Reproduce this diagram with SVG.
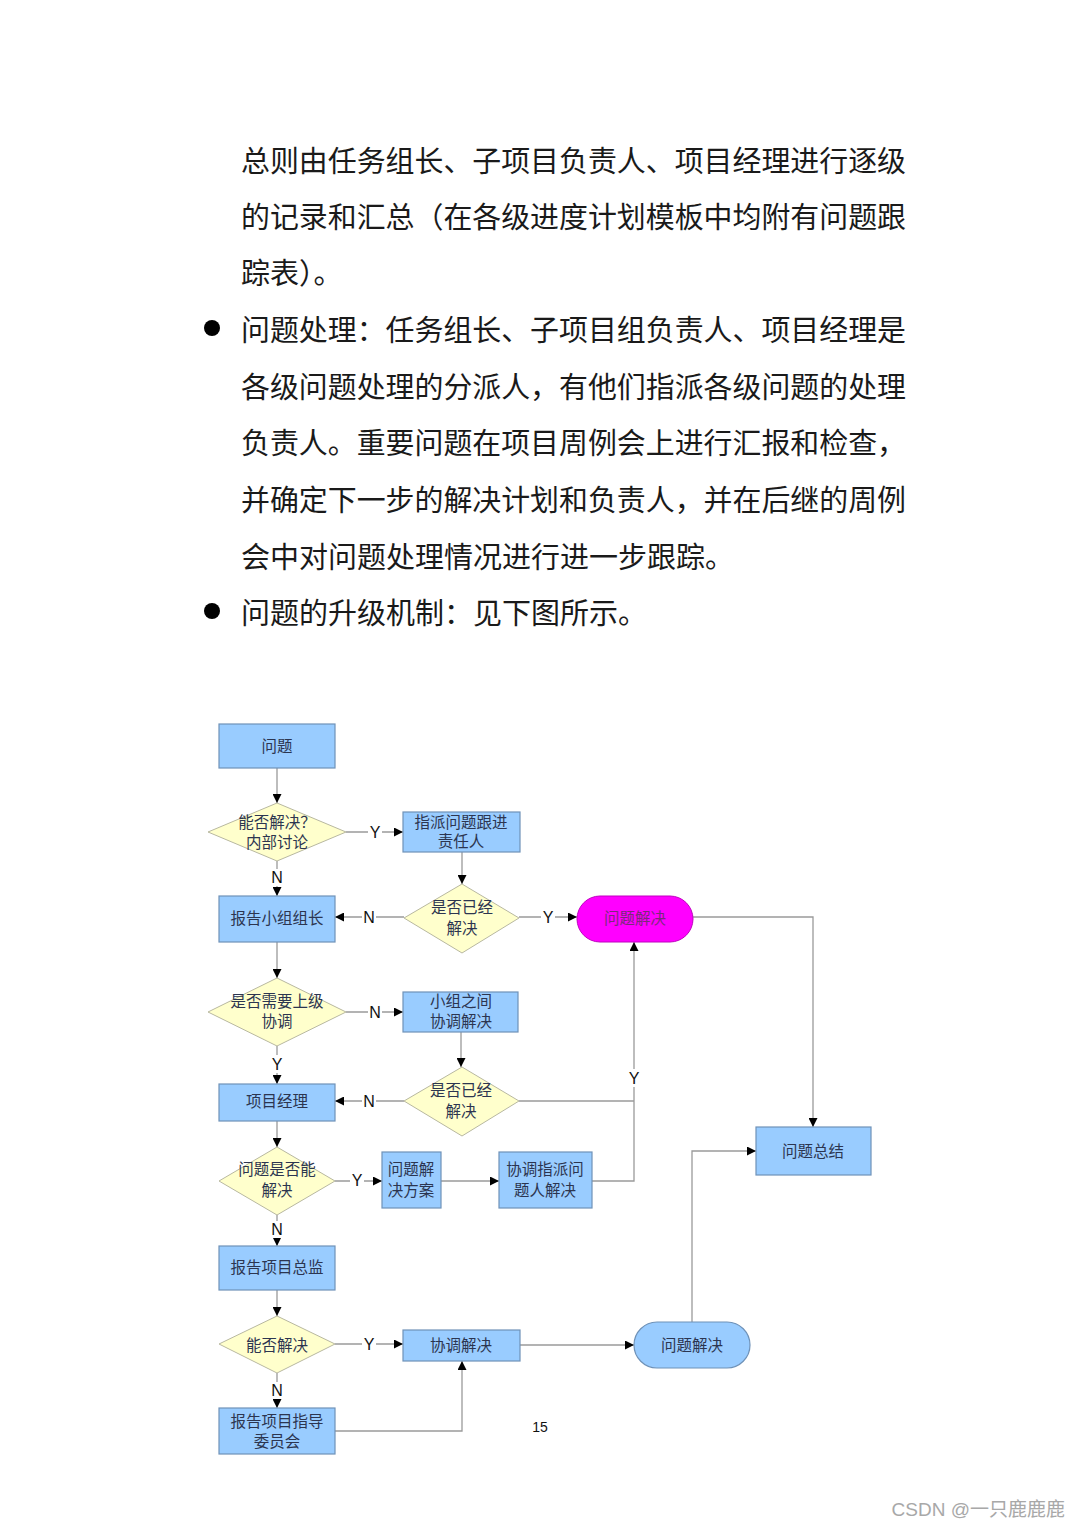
<svg xmlns="http://www.w3.org/2000/svg" width="1080" height="1528" viewBox="0 0 1080 1528">
<style>
.para{font-family:"Noto Sans CJK SC","Noto Sans",sans-serif;font-size:29px;fill:#1a1a1a;dominant-baseline:central}
.box{fill:#99ccff;stroke:#6f92b8;stroke-width:1.2}
.dia{fill:#ffffcc;stroke:#b8b8a0;stroke-width:1}
.nt{font-family:"Noto Sans CJK SC","Noto Sans",sans-serif;font-size:15.5px;fill:#2c3550;text-anchor:middle;dominant-baseline:central;transform:translateY(-1.5px)}
.ln{fill:none;stroke:#9a9a9a;stroke-width:1.3}
.lb{font-family:"Liberation Sans",Arial,sans-serif;font-size:16px;fill:#111;text-anchor:middle;dominant-baseline:central}
.lbg{fill:#ffffff}
</style>
<defs>
<marker id="ah" viewBox="0 0 10 10" refX="10" refY="5" markerWidth="9" markerHeight="9" markerUnits="userSpaceOnUse" orient="auto">
<path d="M0,0 L10,5 L0,10 z" fill="#000"/>
</marker>
</defs>
<rect width="1080" height="1528" fill="#ffffff"/>
<g id="paragraph">
<text class="para" x="241" y="159" textLength="665" lengthAdjust="spacingAndGlyphs">总则由任务组长、子项目负责人、项目经理进行逐级</text>
<text class="para" x="241" y="215" textLength="665" lengthAdjust="spacingAndGlyphs">的记录和汇总（在各级进度计划模板中均附有问题跟</text>
<text class="para" x="241" y="271">踪表）。</text>
<circle cx="212" cy="328" r="8" fill="#000"/>
<text class="para" x="241" y="328" textLength="665" lengthAdjust="spacingAndGlyphs">问题处理：任务组长、子项目组负责人、项目经理是</text>
<text class="para" x="241" y="385" textLength="665" lengthAdjust="spacingAndGlyphs">各级问题处理的分派人，有他们指派各级问题的处理</text>
<text class="para" x="241" y="441" textLength="665" lengthAdjust="spacingAndGlyphs">负责人。重要问题在项目周例会上进行汇报和检查，</text>
<text class="para" x="241" y="498" textLength="665" lengthAdjust="spacingAndGlyphs">并确定下一步的解决计划和负责人，并在后继的周例</text>
<text class="para" x="241" y="555">会中对问题处理情况进行进一步跟踪。</text>
<circle cx="212" cy="611" r="8" fill="#000"/>
<text class="para" x="241" y="611">问题的升级机制：见下图所示。</text>
</g>
<g id="connectors">
<path class="ln" d="M277,768 V803" marker-end="url(#ah)"/>
<path class="ln" d="M346,832 H403" marker-end="url(#ah)"/>
<path class="ln" d="M277,861 V896" marker-end="url(#ah)"/>
<path class="ln" d="M462,852 V884" marker-end="url(#ah)"/>
<path class="ln" d="M404,917 H335" marker-end="url(#ah)"/>
<path class="ln" d="M519,917 H577" marker-end="url(#ah)"/>
<path class="ln" d="M693,917 H813 V1127" marker-end="url(#ah)"/>
<path class="ln" d="M277,942 V978" marker-end="url(#ah)"/>
<path class="ln" d="M346,1012 H403" marker-end="url(#ah)"/>
<path class="ln" d="M277,1046 V1084" marker-end="url(#ah)"/>
<path class="ln" d="M461,1032 V1067" marker-end="url(#ah)"/>
<path class="ln" d="M404,1101 H335" marker-end="url(#ah)"/>
<path class="ln" d="M519,1101 H634"/>
<path class="ln" d="M592,1181 H634 V942" marker-end="url(#ah)"/>
<path class="ln" d="M277,1121 V1147" marker-end="url(#ah)"/>
<path class="ln" d="M335,1181 H382" marker-end="url(#ah)"/>
<path class="ln" d="M441,1181 H499" marker-end="url(#ah)"/>
<path class="ln" d="M277,1215 V1246" marker-end="url(#ah)"/>
<path class="ln" d="M277,1290 V1316" marker-end="url(#ah)"/>
<path class="ln" d="M335,1344 H403" marker-end="url(#ah)"/>
<path class="ln" d="M277,1373 V1408" marker-end="url(#ah)"/>
<path class="ln" d="M335,1431 H462 V1361" marker-end="url(#ah)"/>
<path class="ln" d="M520,1345 H634" marker-end="url(#ah)"/>
<path class="ln" d="M692,1322 V1151 H756" marker-end="url(#ah)"/>
<rect class="lbg" x="368" y="823" width="14" height="18"/><text class="lb" x="375" y="832">Y</text>
<rect class="lbg" x="270" y="869" width="14" height="17"/><text class="lb" x="277" y="877">N</text>
<rect class="lbg" x="362" y="908" width="14" height="18"/><text class="lb" x="369" y="917">N</text>
<rect class="lbg" x="541" y="908" width="14" height="18"/><text class="lb" x="548" y="917">Y</text>
<rect class="lbg" x="368" y="1003" width="14" height="18"/><text class="lb" x="375" y="1012">N</text>
<rect class="lbg" x="270" y="1055" width="14" height="18"/><text class="lb" x="277" y="1064">Y</text>
<rect class="lbg" x="362" y="1092" width="14" height="18"/><text class="lb" x="369" y="1101">N</text>
<rect class="lbg" x="627" y="1069" width="14" height="18"/><text class="lb" x="634" y="1078">Y</text>
<rect class="lbg" x="350" y="1172" width="14" height="18"/><text class="lb" x="357" y="1180">Y</text>
<rect class="lbg" x="270" y="1221" width="14" height="17"/><text class="lb" x="277" y="1229">N</text>
<rect class="lbg" x="362" y="1335" width="14" height="18"/><text class="lb" x="369" y="1344">Y</text>
<rect class="lbg" x="270" y="1382" width="14" height="17"/><text class="lb" x="277" y="1390">N</text>
</g>
<g id="n-wenti"><rect class="box" x="219" y="724" width="116" height="44"/><text class="nt" x="277" y="746">问题</text></g>
<g id="n-d1"><polygon class="dia" points="277,803 346,832 277,861 208,832"/><text class="nt" x="277" y="822">能否解决？</text><text class="nt" x="277" y="842">内部讨论</text></g>
<g id="n-zhipai"><rect class="box" x="403" y="812" width="117" height="40"/><text class="nt" x="461" y="822">指派问题跟进</text><text class="nt" x="461" y="841">责任人</text></g>
<g id="n-zuzhang"><rect class="box" x="219" y="896" width="116" height="46"/><text class="nt" x="277" y="918">报告小组组长</text></g>
<g id="n-d2"><polygon class="dia" points="462,884 519,918 462,953 404,918"/><text class="nt" x="462" y="907">是否已经</text><text class="nt" x="462" y="928">解决</text></g>
<g id="n-jiejue1"><rect x="577" y="896" width="116" height="46" rx="23" ry="23" fill="#ff00ff" stroke="#c000c0" stroke-width="1"/><text class="nt" x="635" y="918" style="fill:#7a2a7a">问题解决</text></g>
<g id="n-d3"><polygon class="dia" points="277,978 346,1012 277,1046 208,1012"/><text class="nt" x="277" y="1001">是否需要上级</text><text class="nt" x="277" y="1021">协调</text></g>
<g id="n-xiaozu"><rect class="box" x="403" y="992" width="115" height="40"/><text class="nt" x="461" y="1001">小组之间</text><text class="nt" x="461" y="1021">协调解决</text></g>
<g id="n-d4"><polygon class="dia" points="462,1067 519,1101 462,1136 404,1101"/><text class="nt" x="461" y="1090">是否已经</text><text class="nt" x="461" y="1111">解决</text></g>
<g id="n-jingli"><rect class="box" x="219" y="1084" width="116" height="37"/><text class="nt" x="277" y="1101">项目经理</text></g>
<g id="n-d5"><polygon class="dia" points="277,1147 335,1181 277,1215 219,1181"/><text class="nt" x="277" y="1169">问题是否能</text><text class="nt" x="277" y="1190">解决</text></g>
<g id="n-fangan"><rect class="box" x="382" y="1152" width="59" height="56"/><text class="nt" x="411" y="1169">问题解</text><text class="nt" x="411" y="1190">决方案</text></g>
<g id="n-xietiao1"><rect class="box" x="499" y="1152" width="93" height="56"/><text class="nt" x="545" y="1169">协调指派问</text><text class="nt" x="545" y="1190">题人解决</text></g>
<g id="n-zongjie"><rect class="box" x="756" y="1127" width="115" height="48"/><text class="nt" x="813" y="1151">问题总结</text></g>
<g id="n-zongjian"><rect class="box" x="219" y="1246" width="116" height="44"/><text class="nt" x="277" y="1267">报告项目总监</text></g>
<g id="n-d6"><polygon class="dia" points="277,1316 335,1344 277,1373 219,1344"/><text class="nt" x="277" y="1345">能否解决</text></g>
<g id="n-xietiao2"><rect class="box" x="403" y="1330" width="117" height="31"/><text class="nt" x="461" y="1345">协调解决</text></g>
<g id="n-weiyuanhui"><rect class="box" x="219" y="1408" width="116" height="46"/><text class="nt" x="277" y="1421">报告项目指导</text><text class="nt" x="277" y="1441">委员会</text></g>
<g id="n-jiejue2"><rect class="box" x="634" y="1322" width="116" height="46" rx="23" ry="23"/><text class="nt" x="692" y="1345">问题解决</text></g>
<text x="540" y="1427" font-family="Liberation Sans,Arial,sans-serif" font-size="14" fill="#111" text-anchor="middle" dominant-baseline="central">15</text>
<text x="1065" y="1509" font-family="Liberation Sans,Arial,'Noto Sans CJK SC',sans-serif" font-size="19" fill="#a8a8a8" text-anchor="end" dominant-baseline="central">CSDN @一只鹿鹿鹿</text>
</svg>
